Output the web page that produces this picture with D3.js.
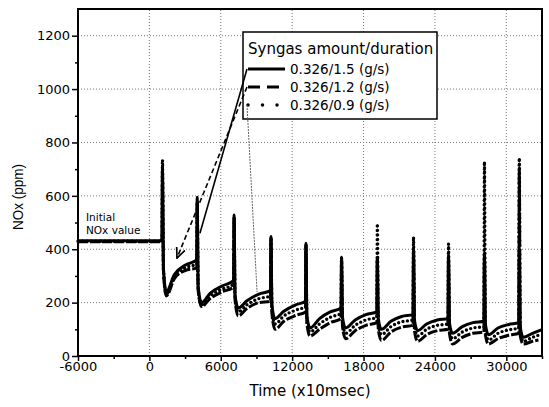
<!DOCTYPE html>
<html>
<head>
<meta charset="utf-8">
<script src="https://cdn.jsdelivr.net/npm/d3@7"></script>
<style>
    body { margin: 0; background: #fff; }
    svg { display: block; }
</style>
</head>
<body>
<svg id="chart" width="549" height="407"></svg>
<script>
// Axis ticks
const xTicks = [-6000, 0, 6000, 12000, 18000, 24000, 30000];
const xMinor = [-3000, 3000, 9000, 15000, 21000, 27000, 33000];
const yTicks = [0, 200, 400, 600, 800, 1000, 1200];
const yMinor = [100, 300, 500, 700, 900, 1100];

// Legend labels
const legendTitle = 'Syngas amount/duration';
const seriesNames = ['0.326/1.5 (g/s)', '0.326/1.2 (g/s)', '0.326/0.9 (g/s)'];

// NOx readings [time (x10msec), ppm] - 0.326/1.5 g/s
const solid15 = [
    [-6000, 432], [1060, 432],
    [1100, 710], [1180, 330], [1420, 240], [2100, 305], [3000, 340], [3980, 360],
    [4020, 595], [4100, 260], [4380, 200], [5100, 235], [6100, 262], [7080, 282],
    [7120, 528], [7200, 230], [7460, 180], [8200, 207], [9200, 232], [10180, 245],
    [10220, 448], [10300, 190], [10560, 140], [11300, 168], [12300, 192], [13120, 205],
    [13160, 422], [13240, 150], [13500, 105], [14300, 140], [15200, 165], [16110, 180],
    [16150, 370], [16230, 145], [16490, 105], [17300, 135], [18200, 155], [19120, 165],
    [19160, 370], [19240, 140], [19500, 100], [20300, 130], [21200, 148], [22160, 155],
    [22200, 405], [22280, 135], [22540, 95], [23300, 120], [24200, 135], [25100, 140],
    [25140, 378], [25220, 125], [25480, 85], [26300, 110], [27200, 125], [28120, 130],
    [28160, 385], [28240, 120], [28500, 80], [29300, 105], [30200, 118], [31050, 125],
    [31090, 395], [31170, 110], [31430, 70], [32200, 85], [32950, 98]
];

// NOx readings - 0.326/1.2 g/s
const dashed12 = [
    [-6000, 428], [1060, 428],
    [1100, 700], [1180, 320], [1420, 225], [2100, 290], [3000, 320], [3980, 330],
    [4020, 580], [4100, 245], [4380, 185], [5100, 215], [6100, 240], [7080, 258],
    [7120, 515], [7200, 210], [7460, 150], [8200, 178], [9200, 200], [10180, 205],
    [10220, 440], [10300, 160], [10560, 100], [11300, 130], [12300, 152], [13120, 165],
    [13160, 415], [13240, 120], [13500, 75], [14300, 100], [15200, 125], [16110, 140],
    [16150, 365], [16230, 110], [16490, 65], [17300, 95], [18200, 115], [19120, 125],
    [19160, 365], [19240, 100], [19500, 58], [20300, 90], [21200, 108], [22160, 115],
    [22200, 400], [22280, 95], [22540, 55], [23300, 80], [24200, 95], [25100, 100],
    [25140, 372], [25220, 85], [25480, 45], [26300, 70], [27200, 85], [28120, 90],
    [28160, 380], [28240, 80], [28500, 45], [29300, 65], [30200, 78], [31050, 85],
    [31090, 700], [31170, 75], [31430, 45], [32200, 55], [32700, 60]
];

// NOx readings - 0.326/0.9 g/s
const dotted09 = [
    [-6000, 430], [1060, 430],
    [1100, 735], [1180, 325], [1420, 232], [2100, 298], [3000, 330], [3980, 345],
    [4020, 570], [4100, 252], [4380, 192], [5100, 225], [6100, 250], [7080, 270],
    [7120, 520], [7200, 220], [7460, 165], [8200, 192], [9200, 215], [10180, 225],
    [10220, 444], [10300, 175], [10560, 120], [11300, 150], [12300, 172], [13120, 185],
    [13160, 418], [13240, 135], [13500, 90], [14300, 120], [15200, 145], [16110, 160],
    [16150, 368], [16230, 128], [16490, 85], [17300, 115], [18200, 135], [19120, 145],
    [19160, 495], [19240, 120], [19500, 80], [20300, 110], [21200, 128], [22160, 135],
    [22200, 446], [22280, 115], [22540, 75], [23300, 100], [24200, 115], [25100, 120],
    [25140, 420], [25220, 105], [25480, 65], [26300, 90], [27200, 105], [28120, 110],
    [28160, 728], [28240, 100], [28500, 60], [29300, 85], [30200, 98], [31050, 105],
    [31090, 742], [31170, 95], [31430, 55], [32200, 70], [32850, 80]
];

// Points the legend callouts lead to [time, ppm]
const calloutTargets = [[4250, 460], [2320, 367], [9050, 240]];

const svg = d3.select('#chart');
const box = { left: 78, right: 542, top: 9, bottom: 356 };

const x = d3.scaleLinear().domain([-6000, 33000]).range([box.left, box.right]);
const y = d3.scaleLinear().domain([0, 1300]).range([box.bottom, box.top]);

// Dotted grid
svg.append('g').selectAll('line')
    .data(xTicks.slice(1))
    .enter().append('line')
    .attr('x1', d => x(d)).attr('x2', d => x(d))
    .attr('y1', y(0)).attr('y2', y(1300))
    .attr('stroke', '#777').attr('stroke-dasharray', '1,2');
svg.append('g').selectAll('line')
    .data(yTicks.slice(1))
    .enter().append('line')
    .attr('x1', x(-6000)).attr('x2', x(33000))
    .attr('y1', d => y(d)).attr('y2', d => y(d))
    .attr('stroke', '#777').attr('stroke-dasharray', '1,2');

// Data lines
const line = d3.line().x(d => x(d[0])).y(d => y(d[1])).curve(d3.curveMonotoneX);
const styles = [
    { data: dashed12, dash: '10,2', width: 3, cap: 'butt' },
    { data: dotted09, dash: '0,4.5', width: 3.4, cap: 'round' },
    { data: solid15, dash: null, width: 3, cap: 'butt' }
];
styles.forEach(s => {
    svg.append('path')
        .datum(s.data)
        .attr('d', line)
        .attr('fill', 'none')
        .attr('stroke', '#000')
        .attr('stroke-width', s.width)
        .attr('stroke-linecap', s.cap)
        .attr('stroke-linejoin', 'round')
        .attr('stroke-dasharray', s.dash);
});

// Frame
svg.append('rect')
    .attr('x', box.left).attr('y', box.top)
    .attr('width', box.right - box.left).attr('height', box.bottom - box.top)
    .attr('fill', 'none').attr('stroke', '#000').attr('stroke-width', 2);

// Axes
const font = '"DejaVu Sans", sans-serif';
svg.append('g').attr('transform', `translate(0,${box.bottom})`)
    .call(d3.axisBottom(x).tickValues(xTicks).tickSize(5).tickPadding(1).tickFormat(d => String(d)));
svg.append('g').attr('transform', `translate(0,${box.bottom})`)
    .call(d3.axisBottom(x).tickValues(xMinor).tickSize(3).tickFormat(''));
svg.append('g').attr('transform', `translate(${box.left},0)`)
    .call(d3.axisLeft(y).tickValues(yTicks).tickSize(6).tickPadding(2).tickFormat(d => String(d)));
svg.append('g').attr('transform', `translate(${box.left},0)`)
    .call(d3.axisLeft(y).tickValues(yMinor).tickSize(3).tickFormat(''));
svg.selectAll('.domain').remove();
svg.selectAll('.tick line').attr('stroke', '#000').attr('stroke-width', 1.5);
svg.selectAll('.tick text').attr('fill', '#000').style('font', `13px ${font}`);

// Axis titles
svg.append('text')
    .attr('x', 310).attr('y', 396)
    .attr('text-anchor', 'middle')
    .style('font', `15px ${font}`)
    .text('Time (x10msec)');
svg.append('text')
    .attr('transform', 'translate(23,197) scale(1.15,1) rotate(-90)')
    .attr('text-anchor', 'middle')
    .style('font', '13.5px "Liberation Sans", Arial, sans-serif')
    .text('NOx (ppm)');

// Initial value note
svg.append('text')
    .attr('x', 86).attr('y', 221)
    .style('font', `10.5px ${font}`)
    .text('Initial');
svg.append('text')
    .attr('x', 86).attr('y', 234)
    .style('font', `10.5px ${font}`)
    .text('NOx value');

// Legend
const lg = svg.append('g');
lg.append('rect')
    .attr('x', 243).attr('y', 32).attr('width', 194).attr('height', 87)
    .attr('fill', '#fff').attr('stroke', '#000').attr('stroke-width', 1.5);
lg.append('text')
    .attr('x', 248).attr('y', 54)
    .style('font', `15px ${font}`)
    .text(legendTitle);
const legendStyles = [
    { dash: null, width: 3, cap: 'butt' },
    { dash: '12,7', width: 3, cap: 'butt' },
    { dash: '0,14.5', width: 3.5, cap: 'round' }
];
seriesNames.forEach((name, i) => {
    const ly = 69 + i * 18;
    lg.append('line')
        .attr('x1', 248).attr('x2', 285).attr('y1', ly).attr('y2', ly)
        .attr('stroke', '#000')
        .attr('stroke-width', legendStyles[i].width)
        .attr('stroke-linecap', legendStyles[i].cap)
        .attr('stroke-dasharray', legendStyles[i].dash);
    lg.append('text')
        .attr('x', 290).attr('y', ly + 5)
        .style('font', `13.5px ${font}`)
        .text(name);
});

// Callout lines from legend samples to the curves
svg.append('defs').append('marker')
    .attr('id', 'head').attr('viewBox', '0 0 10 10')
    .attr('refX', 9).attr('refY', 5)
    .attr('markerWidth', 7).attr('markerHeight', 7)
    .attr('orient', 'auto')
    .append('path').attr('d', 'M0,1 L9,5 L0,9')
    .attr('fill', 'none').attr('stroke', '#000').attr('stroke-width', 1.5);
const calloutStyles = [
    { dash: null, width: 1.6, color: '#000', head: false },
    { dash: '5,3', width: 1.6, color: '#000', head: true },
    { dash: '2,1', width: 1, color: '#666', head: false }
];
calloutTargets.forEach((t, i) => {
    const c = svg.append('line')
        .attr('x1', 247).attr('y1', 69 + i * 18)
        .attr('x2', x(t[0])).attr('y2', y(t[1]))
        .attr('stroke', calloutStyles[i].color)
        .attr('stroke-width', calloutStyles[i].width)
        .attr('stroke-dasharray', calloutStyles[i].dash);
    if (calloutStyles[i].head) c.attr('marker-end', 'url(#head)');
});
</script>
</body>
</html>
